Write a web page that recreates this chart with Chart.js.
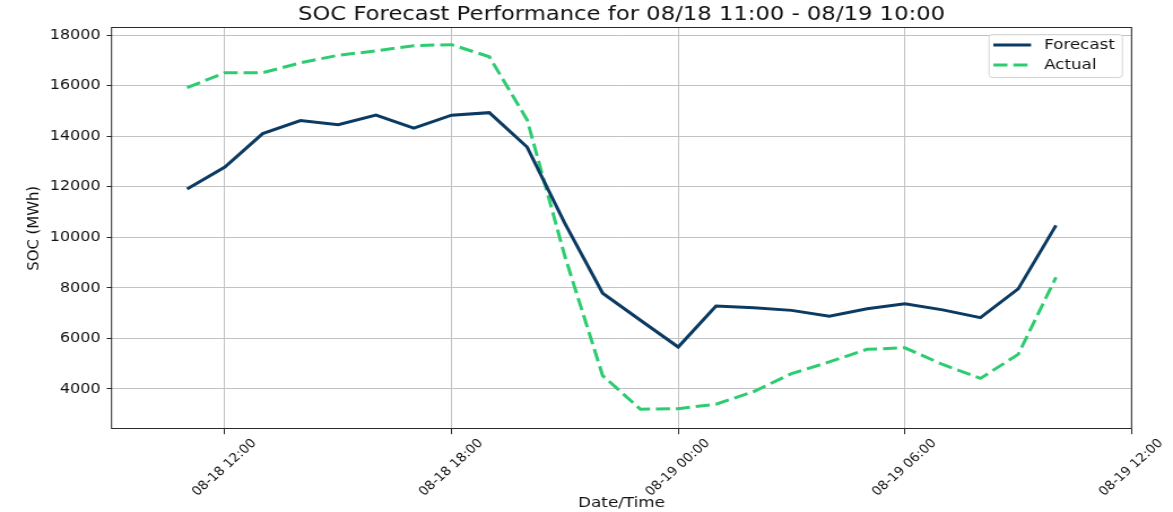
<!DOCTYPE html>
<html><head><meta charset="utf-8">
<script src="https://cdn.jsdelivr.net/npm/chart.js@4.4.1/dist/chart.umd.min.js"></script>
<style>
html,body{margin:0;padding:0;background:#fff;overflow:hidden;}
#c{display:block;transform:scaleX(1.130058);transform-origin:0 0;}
</style></head><body>
<canvas id="c" width="1038" height="512"></canvas>
<script>
// ---- data ----
const times = ['08-18 11:00','08-18 12:00','08-18 13:00','08-18 14:00','08-18 15:00','08-18 16:00',
  '08-18 17:00','08-18 18:00','08-18 19:00','08-18 20:00','08-18 21:00','08-18 22:00','08-18 23:00',
  '08-19 00:00','08-19 01:00','08-19 02:00','08-19 03:00','08-19 04:00','08-19 05:00','08-19 06:00',
  '08-19 07:00','08-19 08:00','08-19 09:00','08-19 10:00'];
const forecast = [11910,12780,14100,14620,14450,14830,14320,14830,14930,13570,10550,7790,6720,
  5660,7280,7210,7110,6880,7170,7370,7130,6820,7960,10470];
const actual = [15920,16510,16510,16900,17200,17370,17580,17620,17140,14650,9250,4530,3200,
  3220,3400,3900,4610,5070,5570,5630,4970,4420,5370,8420];
const xTickTimes = ['08-18 12:00','08-18 18:00','08-19 00:00','08-19 06:00','08-19 12:00'];
const yTicks = [4000,6000,8000,10000,12000,14000,16000,18000];
const titleText = 'SOC Forecast Performance for 08/18 11:00 - 08/19 10:00';
const seriesNames = ['Forecast','Actual'];

// ---- helpers ----
function toHours(t){
  const [d, hm] = t.split(' ');
  const day = parseInt(d.split('-')[1], 10);
  const [h, m] = hm.split(':').map(Number);
  return (day - 18) * 24 + h + m / 60;
}
const FONT = 'DejaVu Sans';

const frame = {
  id: 'frame',
  afterDraw(chart){
    const {ctx, chartArea: a} = chart;
    ctx.save();
    ctx.strokeStyle = '#2a2a2a';
    ctx.lineWidth = 1;
    const t = Math.round(a.top) + 0.5, b = Math.round(a.bottom) - 0.5;
    ctx.strokeRect(a.left, t, a.right - a.left, b - t);
    ctx.restore();
  }
};

const legendBox = {
  id: 'legendBox',
  afterDraw(chart){
    const {ctx, chartArea: a} = chart;
    ctx.save();
    const w = 118, h = 43;
    const x = a.right - 8.1 - w, y = a.top + 6.7;
    ctx.beginPath();
    ctx.roundRect(x, Math.round(y) + 0.5, w, h, 3);
    ctx.fillStyle = 'rgba(255,255,255,0.85)';
    ctx.fill();
    ctx.strokeStyle = '#d4d4d4';
    ctx.lineWidth = 1;
    ctx.stroke();
    chart.data.datasets.forEach((ds, i) => {
      const yy = y + 11 + i * 20;
      ctx.beginPath();
      ctx.setLineDash(ds.borderDash || []);
      ctx.lineWidth = ds.borderWidth;
      ctx.strokeStyle = ds.borderColor;
      ctx.moveTo(x + 3.8, yy);
      ctx.lineTo(x + 37.2, yy);
      ctx.stroke();
      ctx.setLineDash([]);
      ctx.fillStyle = '#111';
      ctx.font = '14.8px "' + FONT + '"';
      ctx.textBaseline = 'middle';
      ctx.textAlign = 'left';
      ctx.fillText(ds.label, x + 48.7, yy);
    });
    ctx.restore();
  }
};

new Chart(document.getElementById('c'), {
  type: 'line',
  data: {
    datasets: [
      {
        label: seriesNames[0],
        data: times.map((t, i) => ({x: toHours(t), y: forecast[i]})),
        borderColor: '#0b3b62',
        borderWidth: 3,
        pointRadius: 0,
        tension: 0,
        fill: false
      },
      {
        label: seriesNames[1],
        data: times.map((t, i) => ({x: toHours(t), y: actual[i]})),
        borderColor: '#2ecc71',
        borderWidth: 3,
        borderDash: [12.5, 5.2],
        pointRadius: 0,
        tension: 0,
        fill: false
      }
    ]
  },
  options: {
    responsive: false,
    animation: false,
    layout: {padding: {left: 0, right: 36.7, top: 0, bottom: 0}},
    plugins: {
      legend: {display: false},
      tooltip: {enabled: false},
      title: {
        display: true,
        fullSize: false,
        text: titleText,
        color: '#111',
        font: {family: FONT, size: 20.1, weight: 'normal'},
        padding: {top: 3.2, bottom: 0}
      }
    },
    scales: {
      x: {
        type: 'linear',
        min: 9, max: 36,
        afterBuildTicks: s => { s.ticks = xTickTimes.map(t => ({value: toHours(t)})); },
        afterFit: s => { s.height = 82.7; },
        ticks: {
          autoSkip: false,
          minRotation: 45, maxRotation: 45,
          labelOffset: 26,
          padding: 2.0,
          color: '#111',
          font: {family: FONT, size: 12.2},
          callback: (v, i) => xTickTimes[i]
        },
        grid: {color: '#c2c2c2', lineWidth: 1, tickLength: 4.9, tickColor: '#2a2a2a', tickWidth: 1},
        border: {display: false},
        title: {display: true, text: 'Date/Time', color: '#111',
          font: {family: FONT, size: 14.9}, padding: {top: 0, bottom: 0}}
      },
      y: {
        type: 'linear',
        min: 2406, max: 18305,
        afterBuildTicks: s => { s.ticks = yTicks.map(v => ({value: v})); },
        afterFit: s => { s.width = 98.7; },
        ticks: {
          padding: 5.3,
          color: '#111',
          font: {family: FONT, size: 14.2},
          callback: v => String(v)
        },
        grid: {color: '#c2c2c2', lineWidth: 1, tickLength: 4.3, tickColor: '#2a2a2a', tickWidth: 1},
        border: {display: false},
        title: {display: true, text: 'SOC (MWh)', color: '#111',
          font: {family: FONT, size: 14.9}, padding: {top: 21, bottom: 0}}
      }
    }
  },
  plugins: [frame, legendBox]
});
</script>
</body></html>
